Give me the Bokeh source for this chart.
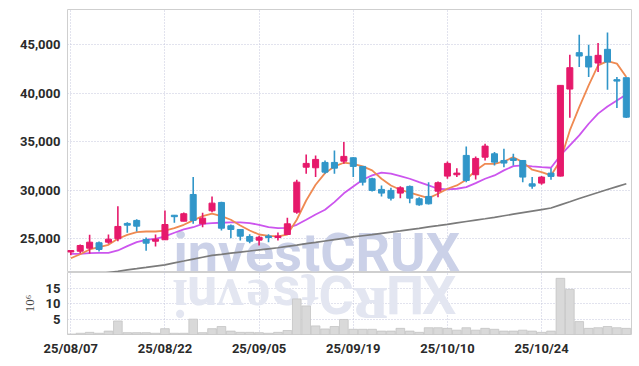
from bokeh.plotting import figure
from bokeh.layouts import column
from bokeh.models import ColumnDataSource, FixedTicker, NumeralTickFormatter, Range1d
from bokeh.core.properties import value
from bokeh.embed import file_html
from bokeh.resources import INLINE

# ---- data (trading days) ----
dates = ["25/08/07", "25/08/08", "25/08/11", "25/08/12", "25/08/13", "25/08/14", "25/08/18", "25/08/19", "25/08/20", "25/08/21",
         "25/08/22", "25/08/25", "25/08/26", "25/08/27", "25/08/28", "25/08/29", "25/09/01", "25/09/02", "25/09/03", "25/09/04",
         "25/09/05", "25/09/08", "25/09/09", "25/09/10", "25/09/11", "25/09/12", "25/09/15", "25/09/16", "25/09/17", "25/09/18",
         "25/09/19", "25/09/22", "25/09/23", "25/09/24", "25/09/25", "25/09/26", "25/09/29", "25/09/30", "25/10/01", "25/10/02",
         "25/10/10", "25/10/13", "25/10/14", "25/10/15", "25/10/16", "25/10/17", "25/10/20", "25/10/21", "25/10/22", "25/10/23",
         "25/10/24", "25/10/27", "25/10/28", "25/10/29", "25/10/30", "25/10/31", "25/11/03", "25/11/04", "25/11/05", "25/11/06"]

opens = [23650, 23720, 24030, 24590, 24650, 25000, 26580, 26890, 24930, 24750,
         24900, 27400, 26810, 29560, 26540, 27880, 28740, 26340, 25960, 25240,
         24860, 25240, 25170, 25440, 27740, 32370, 32310, 32860, 32860, 32990,
         33340, 32450, 31180, 30080, 29980, 29700, 30390, 29120, 29360, 29900,
         31450, 31590, 33580, 31590, 33400, 33750, 33060, 33240, 33060, 30660,
         30730, 31760, 31450, 40410, 44160, 43780, 43090, 44500, 41380, 41580]
closes = [23780, 24310, 24650, 23900, 24960, 26270, 26400, 26300, 24550, 24960,
          26470, 27300, 27580, 26890, 27120, 28670, 26090, 25960, 25270, 24750,
          25160, 25170, 25240, 26540, 30830, 32760, 33170, 31860, 32270, 33480,
          32450, 30830, 29980, 29700, 29180, 30250, 29180, 28500, 28600, 30770,
          32760, 31760, 31000, 33270, 34540, 32890, 32790, 33060, 31350, 30420,
          31350, 31420, 40790, 42610, 43810, 42680, 43880, 43190, 41230, 37520]
highs = [23800, 24400, 25410, 24720, 25440, 28360, 26710, 27020, 25130, 25440,
         27920, 27450, 27710, 31350, 27680, 29360, 28800, 26470, 26000, 25470,
         25300, 25470, 25650, 27160, 31080, 33680, 33580, 33060, 34090, 34950,
         33400, 32500, 31280, 30490, 30250, 30420, 30490, 29280, 30830, 30900,
         32960, 32270, 34510, 33480, 34790, 33920, 34270, 33750, 33100, 31350,
         31450, 32270, 40800, 43950, 46010, 44980, 45150, 46220, 41650, 41600]
lows = [23300, 23500, 23490, 23700, 24480, 24750, 25620, 25750, 23760, 24210,
        24880, 26650, 26800, 26550, 26190, 27740, 25850, 25060, 24830, 24550,
        24310, 24650, 24820, 25400, 27580, 31700, 31350, 31700, 31700, 32720,
        31350, 30490, 29870, 29360, 28940, 29180, 28670, 28400, 28530, 29280,
        31180, 31350, 30830, 31110, 33060, 32550, 32370, 32550, 30830, 30150,
        30560, 31080, 31400, 37460, 42670, 41650, 42160, 40350, 38450, 37420]

ma5 = [23000, 23410, 23900, 24130, 24380, 25000, 25410, 25680, 25750, 25750,
       25850, 26090, 26440, 26890, 27330, 27580, 27330, 26960, 26370, 25850,
       25440, 25310, 25240, 25440, 26960, 28940, 30560, 31760, 32450, 32830,
       32720, 32450, 32040, 31180, 30490, 30050, 29740, 29460, 29180, 29630,
       30150, 30490, 31080, 32040, 32720, 32720, 32960, 33400, 32890, 32110,
       31860, 31520, 33060, 36150, 38550, 40790, 42850, 43290, 43030, 41650]
ma20 = [23450, 23450, 23520, 23550, 23550, 23800, 24240, 24650, 24900, 25000,
        25240, 25620, 25960, 26190, 26540, 26610, 26650, 26680, 26680, 26610,
        26440, 26190, 26090, 26130, 26440, 26960, 27500, 27990, 28770, 29680,
        30390, 31080, 31520, 31800, 31700, 31450, 31180, 30830, 30490, 30150,
        30080, 30150, 30320, 30730, 31180, 31520, 32040, 32480, 32550, 32450,
        32370, 32310, 33580, 34610, 35640, 36840, 37880, 38620, 39240, 39860]
ma60 = [20990, 21110, 21260, 21390, 21530, 21660, 21800, 21920, 22050, 22190,
        22320, 22520, 22710, 22910, 23100, 23290, 23400, 23520, 23630, 23740,
        23860, 23970, 24080, 24220, 24350, 24500, 24630, 24770, 24910, 25050,
        25190, 25310, 25430, 25560, 25690, 25810, 25940, 26070, 26220, 26350,
        26490, 26640, 26780, 26920, 27060, 27210, 27370, 27530, 27690, 27850,
        28010, 28170, 28490, 28810, 29140, 29460, 29760, 30070, 30370, 30670]

volumes_m = [0.15, 0.4, 0.7, 0.4, 1.1, 4.4, 0.6, 0.6, 0.6, 0.4,
             1.9, 0.4, 0.4, 5.0, 0.6, 1.9, 2.6, 1.1, 0.7, 0.7,
             0.6, 0.4, 0.7, 1.3, 11.6, 9.3, 2.8, 1.8, 2.6, 4.9,
             1.7, 1.7, 1.7, 1.1, 1.1, 2.0, 1.1, 0.7, 2.2, 2.2,
             2.0, 1.4, 2.2, 1.4, 2.0, 1.7, 1.1, 1.1, 1.4, 1.1,
             0.7, 1.1, 18.3, 14.7, 4.2, 2.0, 2.2, 2.6, 2.2, 2.0]

price_ticks = [25000, 30000, 35000, 40000, 45000]
vol_ticks = [5, 10, 15]
date_tick_idx = [0, 10, 20, 30, 40, 50]
watermark = "investCRUX"
# mirrored look-alike glyphs for the watermark's reflection
watermark_mirror = ["\u1d09", "u", "\u028c", "\u01dd", "s", "\u0287", "C", "\u1d1a", "\u03a0", "X"]

UP = "#e6196b"
DOWN = "#3196c9"
GRID = "#c4c7dc"
FONT = "Roboto"

n = len(dates)
idx = list(range(n))
colors = [UP if c >= o else DOWN for o, c in zip(opens, closes)]
btop, bbot = [], []
for o, c in zip(opens, closes):
    t, b = max(o, c), min(o, c)
    if t - b < 150:
        m = (t + b) / 2
        t, b = m + 75, m - 75
    btop.append(t)
    bbot.append(b)

src = ColumnDataSource(dict(x=idx, o=opens, c=closes, h=highs, l=lows, top=btop, bot=bbot,
                            color=colors, ma5=ma5, ma20=ma20, ma60=ma60, vol=volumes_m))

x_range = Range1d(-0.35, 59.55)
PX_PER_IDX = 9.42
FRAME_LEFT = 67
VOL_TOP = 20.2
PRICE_LO = 21530
PRICE_PER_PX = 103.0
TEXT_SHIFT_PX = 17.5  # measured offset of the text baseline in the rendered svg

# ---- price panel ----
p = figure(width=632, height=272, x_range=x_range, y_range=Range1d(PRICE_LO, 48600),
           output_backend="svg", toolbar_location=None, x_axis_location=None,
           min_border_left=FRAME_LEFT, min_border_right=1, min_border_top=9, min_border_bottom=0)
p.outline_line_color = "#cfcfcf"
p.yaxis.ticker = FixedTicker(ticks=price_ticks)
p.yaxis.formatter = NumeralTickFormatter(format="0,0")
p.xgrid.ticker = FixedTicker(ticks=date_tick_idx)

# watermark (top)
wm_font_px = 54
wm_left = 173
x0_px = FRAME_LEFT + 3.3
p.text(x=[(wm_left - x0_px) / PX_PER_IDX], y=[PRICE_LO + (2 + TEXT_SHIFT_PX) * PRICE_PER_PX], text=[watermark],
       text_font=value(FONT), text_font_style="bold", text_font_size=value(f"{wm_font_px}px"),
       text_color="#cbd1e8", text_align="left", text_baseline="alphabetic")

p.line("x", "ma60", source=src, line_color="#7b7b7b", line_width=1.7)
p.line("x", "ma20", source=src, line_color="#cc55ee", line_width=1.8)
p.line("x", "ma5", source=src, line_color="#ef8a52", line_width=1.8)
p.segment(x0="x", y0="l", x1="x", y1="h", source=src, line_color="color", line_width=1.6)
p.vbar(x="x", top="top", bottom="bot", width=0.64, source=src, fill_color="color", line_color="color")

# ---- volume panel ----
v = figure(width=632, height=86, x_range=x_range, y_range=Range1d(0, VOL_TOP),
           output_backend="svg", toolbar_location=None,
           min_border_left=FRAME_LEFT, min_border_right=1, min_border_top=0, min_border_bottom=0)
v.outline_line_color = "#cfcfcf"
v.yaxis.ticker = FixedTicker(ticks=vol_ticks)
v.yaxis.axis_label = "10\u2076"
v.yaxis.axis_label_text_font = "Liberation Serif"
v.yaxis.axis_label_text_font_style = "normal"
v.yaxis.axis_label_text_font_size = "13px"
v.yaxis.axis_label_text_color = "#444444"
v.yaxis.axis_label_standoff = 6
v.xaxis.ticker = FixedTicker(ticks=date_tick_idx)
v.xaxis.major_label_overrides = {i: dates[i] for i in date_tick_idx}
v.xgrid.ticker = FixedTicker(ticks=date_tick_idx)

# watermark reflection: upright look-alike glyphs placed letter by letter
adv = [0.253, 0.553, 0.494, 0.532, 0.519, 0.337, 0.652, 0.628, 0.643, 0.626]
v_px_per_unit = 64.0 / VOL_TOP
gap_px = 3 - TEXT_SHIFT_PX
xh_px = 0.528 * wm_font_px
cap_px = 0.711 * wm_font_px
rx, ry, rt, rs = [], [], [], []
cur = float(wm_left)
for k, ch in enumerate(watermark_mirror):
    w = adv[k] * wm_font_px
    rx.append((cur + w / 2 - x0_px) / PX_PER_IDX)
    rt.append(ch)
    if watermark[k].isupper():
        ry.append(VOL_TOP - (gap_px + cap_px) / v_px_per_unit)
    else:
        ry.append(VOL_TOP - (gap_px + xh_px) / v_px_per_unit)
    rs.append("66px" if ch == "\u1d1a" else f"{wm_font_px}px")
    cur += w
refl_src = ColumnDataSource(dict(x=rx, y=ry, text=rt, size=rs))
v.text(x="x", y="y", text="text", source=refl_src, text_font=value(FONT), text_font_style="bold",
       text_font_size="size", text_color="#e3e6f1", text_align="center", text_baseline="alphabetic")

v.vbar(x="x", top="vol", bottom=0, width=0.92, source=src, fill_color="#d9d9d9", line_color="#c4c4c4", line_width=0.8)

for fig in (p, v):
    fig.grid.grid_line_color = GRID
    fig.grid.grid_line_dash = "1 2"
    fig.grid.grid_line_width = 1
    fig.background_fill_color = "white"
    fig.border_fill_color = "white"
    for ax in fig.axis:
        ax.axis_line_color = None
        ax.major_tick_line_color = None
        ax.minor_tick_line_color = None
        ax.major_tick_out = 0
        ax.major_tick_in = 0
        ax.major_label_text_font = FONT
        ax.major_label_text_font_size = "13px"
        ax.major_label_text_font_style = "bold"
        ax.major_label_text_color = "#2a2a2a"
        ax.major_label_standoff = 7

v.xaxis.major_label_standoff = 6

layout = column(p, v, spacing=0)
open("out.html", "w").write(file_html(layout, INLINE))
